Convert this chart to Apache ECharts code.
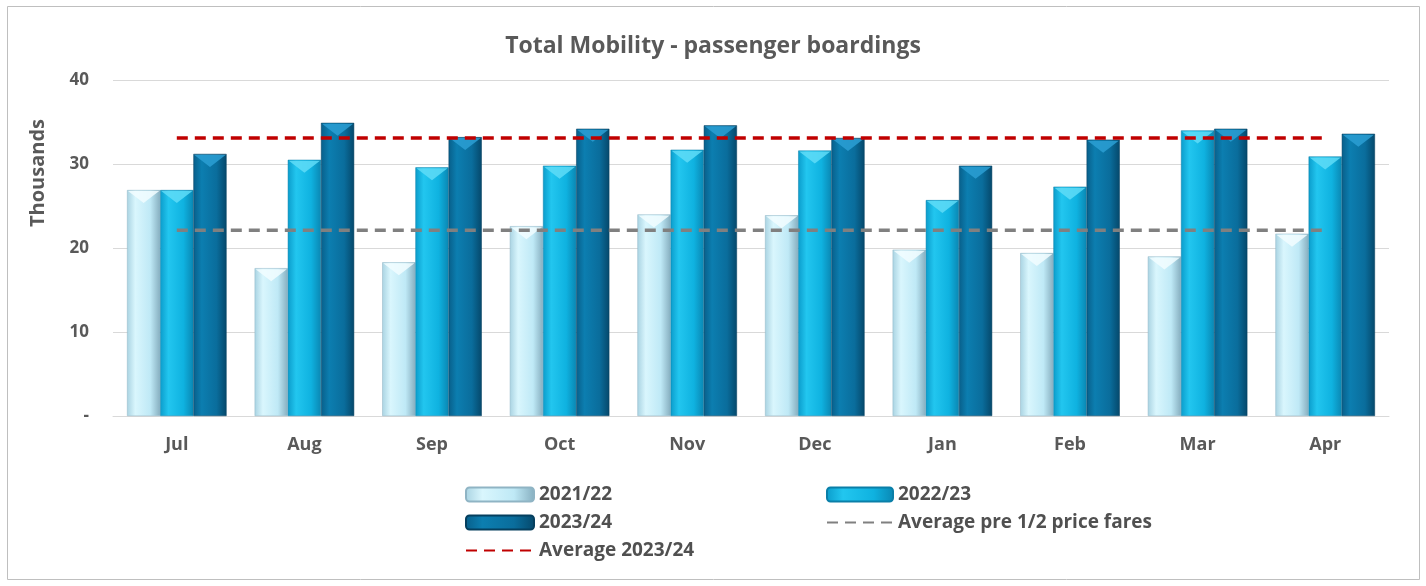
<!DOCTYPE html>
<html>
 <head>
  <meta charset="utf-8" />
  <title>Total Mobility</title>
  <script src="https://cdn.jsdelivr.net/npm/echarts@6/dist/echarts.min.js"></script>
 </head>
 <body style="margin:0;background:#fff;">
  <div id="main" style="width:1426px;height:586px;"></div>
  <script type="text/javascript">

    // months and boardings (thousands)
    var months = ['Jul', 'Aug', 'Sep', 'Oct', 'Nov', 'Dec', 'Jan', 'Feb', 'Mar', 'Apr'];
    var y2122 = [26.9, 17.6, 18.3, 22.6, 24.0, 23.9, 19.8, 19.4, 19.0, 21.7];
    var y2223 = [26.9, 30.5, 29.6, 29.8, 31.7, 31.6, 25.7, 27.3, 34.0, 30.9];
    var y2324 = [31.2, 34.9, 33.2, 34.2, 34.6, 33.1, 29.8, 32.9, 34.2, 33.6];
    var avgPre = [22.1, 22.1, 22.1, 22.1, 22.1, 22.1, 22.1, 22.1, 22.1, 22.1];
    var avg2324 = [33.1, 33.1, 33.1, 33.1, 33.1, 33.1, 33.1, 33.1, 33.1, 33.1];
    var yTicks = ['-', '10', '20', '30', '40'];

    var font = 'Open Sans';
    var gap = 0.22;

    function grad(c0, c1, c2, c3) {
        return new echarts.graphic.LinearGradient(0, 0, 1, 0, [
            { offset: 0, color: c0 },
            { offset: 0.25, color: c1 },
            { offset: 0.7, color: c2 },
            { offset: 1, color: c3 }
        ]);
    }

    var fills = [
        grad('#a9d3e2', '#d9f6fd', '#bfe9f6', '#86aebf'),
        grad('#0b9ccb', '#22c6ef', '#0fb2e0', '#0a87b3'),
        grad('#085f8a', '#0c7eb0', '#0a6d9c', '#05486b')
    ];
    var bevel = ['#f2fdff', '#5fdcf7', '#2b9fd3'];

    // triangle bevel on top of every bar, placed with the category scale
    var bevelData = [];
    [y2122, y2223, y2324].forEach(function (arr, s) {
        arr.forEach(function (v, i) { bevelData.push([i, v, s]); });
    });

    function renderBevel(params, api) {
        var idx = api.value(0), val = api.value(1), s = api.value(2);
        var band = api.size([1, 0])[0];
        var bw = band * (1 - gap) / 3;
        var p = api.coord([idx, val]);
        var cx = p[0] + (s - 1) * bw;
        var h = Math.min(13, bw * 0.4);
        return {
            type: 'polygon',
            shape: { points: [[cx - bw / 2 + 1, p[1] + 1], [cx + bw / 2 - 1, p[1] + 1], [cx, p[1] + h]] },
            style: { fill: bevel[s], opacity: 0.85 }
        };
    }

    var legendText = { fontFamily: font, fontSize: 19, fontWeight: 'bold', color: '#505050' };
    var noDot = { opacity: 0 };

    var myChart = echarts.init(document.getElementById('main'));

    myChart.setOption({
        animation: false,
        title: {
            text: 'Total Mobility - passenger boardings',
            left: 'center',
            top: 30,
            textStyle: { fontFamily: font, fontSize: 23, fontWeight: 'bold', color: '#595959' }
        },
        graphic: [
            {
                type: 'rect',
                shape: { x: 7.5, y: 6.5, width: 1412, height: 573 },
                style: { fill: 'none', stroke: '#bfbfbf', lineWidth: 1 },
                silent: true
            },
            {
                type: 'text',
                x: 38, y: 173,
                rotation: Math.PI / 2,
                style: {
                    text: 'Thousands', fill: '#595959',
                    font: 'bold 20px "Open Sans"',
                    align: 'center', verticalAlign: 'middle'
                }
            }
        ],
        legend: [
            {
                left: 460, top: 480, orient: 'vertical',
                itemWidth: 68, itemHeight: 14, itemGap: 9,
                data: ['2021/22', '2023/24', { name: 'Average 2023/24', itemStyle: noDot }],
                textStyle: legendText
            },
            {
                left: 821, top: 480, orient: 'vertical',
                itemWidth: 66, itemHeight: 14, itemGap: 9,
                data: ['2022/23', { name: 'Average pre 1/2 price fares', itemStyle: noDot }],
                textStyle: legendText
            }
        ],
        grid: { left: 113, right: 37, top: 80, bottom: 170 },
        xAxis: {
            type: 'category',
            data: months,
            axisLine: { lineStyle: { color: '#d9d9d9' } },
            axisTick: { show: false },
            axisLabel: { fontFamily: font, fontSize: 18, fontWeight: 'bold', color: '#595959', margin: 20 }
        },
        yAxis: {
            type: 'value',
            min: 0, max: 40, interval: 10,
            axisLine: { show: false },
            axisTick: { show: false },
            splitLine: { lineStyle: { color: '#d9d9d9' } },
            axisLabel: {
                fontFamily: font, fontSize: 17, fontWeight: 'bold', color: '#595959', margin: 24,
                formatter: function (v) { return yTicks[v / 10]; }
            }
        },
        series: [
            { name: '2021/22', type: 'bar', data: y2122, barGap: '0%', barCategoryGap: '22%',
              itemStyle: { color: fills[0], borderColor: '#8fb4c4', borderWidth: 0.5 } },
            { name: '2022/23', type: 'bar', data: y2223,
              itemStyle: { color: fills[1], borderColor: '#0a7fa8', borderWidth: 0.5 } },
            { name: '2023/24', type: 'bar', data: y2324,
              itemStyle: { color: fills[2], borderColor: '#053f5e', borderWidth: 0.5 } },
            { type: 'custom', renderItem: renderBevel, data: bevelData, silent: true, z: 3 },
            { name: 'Average pre 1/2 price fares', type: 'line', data: avgPre, symbol: 'none', z: 5,
              itemStyle: { color: '#808080' },
              lineStyle: { color: '#808080', width: 3.5, type: [11, 7] } },
            { name: 'Average 2023/24', type: 'line', data: avg2324, symbol: 'none', z: 5,
              itemStyle: { color: '#c00000' },
              lineStyle: { color: '#c00000', width: 3.5, type: [11, 7] } }
        ]
    });
  </script>
 </body>
</html>
